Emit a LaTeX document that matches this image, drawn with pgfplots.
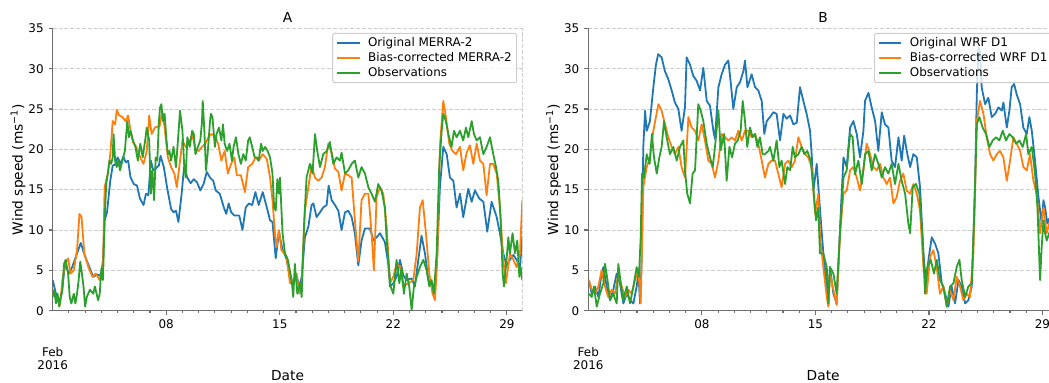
\documentclass[border=0pt]{standalone}
\usepackage{fontspec}
\setmainfont{DejaVu Sans}
\usepackage{pgfplots}
\pgfplotsset{compat=1.18}
\definecolor{mblue}{HTML}{1F77B4}
\definecolor{morange}{HTML}{FF7F0E}
\definecolor{mgreen}{HTML}{2CA02C}
\definecolor{spine}{RGB}{110,110,110}
\definecolor{gridc}{RGB}{205,205,205}
\definecolor{legc}{RGB}{204,204,204}
\pgfplotsset{
  panel/.style={
    scale only axis, width=338.2pt, height=203.3pt,
    anchor=south west,
    xmin=0, xmax=28.958, ymin=0, ymax=35,
    axis lines*=left,
    axis line style={draw=spine, line width=0.8pt},
    tick style={draw=spine, line width=0.8pt},
    tick align=outside,
    major tick length=3pt, minor tick length=1.8pt,
    xtick={7,14,21,28}, xticklabels={08,15,22,29},
    minor xtick={1,2,3,4,5,6,8,9,10,11,12,13,15,16,17,18,19,20,22,23,24,25,26,27},
    ytick={0,5,10,15,20,25,30,35},
    ymajorgrids,
    grid style={draw=gridc, line width=0.7pt, dash pattern=on 2.9pt off 1.3pt},
    /pgf/number format/assume math mode=true,
    ticklabel style={font=\fontsize{8.6}{10}\selectfont},
    label style={font=\fontsize{9.9}{11.5}\selectfont},
    ylabel={Wind speed (ms\textsuperscript{−1})},
    ylabel style={at={(rel axis cs:-0.0739,0.5)}, anchor=center},
    xlabel={Date},
    xlabel style={at={(rel axis cs:0.5,-0.2315)}, anchor=center},
    title style={at={(rel axis cs:0.5,1)}, anchor=base, yshift=-2pt, font=\fontsize{9.9}{11.5}\selectfont},
    clip mode=individual,
    every axis plot/.append style={line width=1.3pt, line join=round},
    legend cell align=left,
    legend image code/.code={\draw[#1] (0pt,0pt) -- (16pt,0pt);},
    legend style={at={(rel axis cs:1,1)}, anchor=north east, xshift=-3.8pt, yshift=-3.3pt,
      font=\fontsize{8.6}{10}\selectfont, draw=legc, line width=0.7pt, rounded corners=1.5pt,
      fill=white, fill opacity=0.8, text opacity=1, draw opacity=1,
      inner xsep=2.7pt, inner ysep=2.3pt, row sep=1.5pt, column sep=4.7pt,
      nodes={inner sep=0.8pt, text height=6.2pt, text depth=1.5pt}},
  }
}
\begin{document}
\begin{tikzpicture}
\begin{axis}[panel, at={(37.94pt,52.06pt)}, title={A}]
\addplot[mblue] coordinates {(0,3.8) (0.25,1.7) (0.45,1.3) (0.55,2.1) (0.76,5.8) (1.0,4.6) (1.2,5.4) (1.5,7.1) (1.73,8.4) (2.0,6.7) (2.3,5.2) (2.5,4.2) (2.75,4.5) (2.98,4.3) (3.1,6.3) (3.2,11.2) (3.35,12.2) (3.55,16.1) (3.7,18.0) (3.85,18.1) (4.0,19.0) (4.2,18.2) (4.35,19.1) (4.5,18.4) (4.65,18.6) (4.8,16.5) (5.0,15.7) (5.2,15.5) (5.38,13.9) (5.6,13.1) (5.75,14.5) (5.9,14.3) (6.05,18.6) (6.2,17.4) (6.35,17.6) (6.55,18.0) (6.65,19.2) (6.85,17.8) (7.05,15.3) (7.3,12.6) (7.45,12.2) (7.6,12.4) (7.75,11.0) (7.95,14.5) (8.1,17.8) (8.3,16.5) (8.5,15.8) (8.7,16.3) (8.9,15.9) (9.1,14.9) (9.3,15.7) (9.5,17.2) (9.7,16.5) (9.9,16.1) (10.05,14.9) (10.3,14.5) (10.55,12.8) (10.7,12.0) (10.85,13.3) (11.0,12.2) (11.2,11.8) (11.5,11.8) (11.7,10.0) (11.9,12.8) (12.1,13.3) (12.3,13.1) (12.5,14.7) (12.7,13.1) (12.95,14.7) (13.2,12.8) (13.4,11.2) (13.55,11.0) (13.75,6.5) (13.95,9.8) (14.15,7.7) (14.4,6.5) (14.63,4.2) (14.83,3.4) (15.04,4.2) (15.24,3.0) (15.35,4.2) (15.55,9.1) (15.76,10.4) (15.96,13.1) (16.07,13.3) (16.27,11.6) (16.48,12.2) (16.68,12.8) (16.89,13.1) (17.01,15.5) (17.2,13.7) (17.4,13.1) (17.61,12.4) (17.81,10.0) (18.02,12.2) (18.22,12.4) (18.43,11.6) (18.63,9.6) (18.84,5.6) (19.04,8.7) (19.25,10.2) (19.56,10.2) (19.77,8.7) (19.97,9.1) (20.18,9.6) (20.48,8.5) (20.69,5.8) (20.79,3.0) (21.0,3.4) (21.2,4.2) (21.41,6.3) (21.61,4.4) (21.82,3.8) (22.13,4.0) (22.33,3.0) (22.54,6.3) (22.74,9.3) (22.95,7.1) (23.16,3.8) (23.36,3.2) (23.57,3.0) (23.71,7.1) (23.87,15.3) (24.08,20.3) (24.29,19.4) (24.49,16.5) (24.7,16.1) (24.9,12.8) (25.11,14.5) (25.31,11.6) (25.62,15.1) (25.83,13.5) (26.03,14.9) (26.3,13.9) (26.55,13.5) (26.79,9.8) (27.06,13.5) (27.37,11.6) (27.57,9.6) (27.78,7.1) (27.98,5.6) (28.19,6.3) (28.4,6.9) (28.6,6.3) (28.81,5.4) (28.95,9.3)};
\addlegendentry{Original MERRA-2}
\addplot[morange] coordinates {(0,2.1) (0.15,1.7) (0.3,1.3) (0.45,0.7) (0.6,3.8) (0.76,5.8) (0.95,6.5) (1.1,4.6) (1.3,5.0) (1.5,7.5) (1.65,12.0) (1.78,11.6) (1.95,7.1) (2.2,5.4) (2.45,4.2) (2.65,4.6) (2.9,3.8) (3.1,5.4) (3.2,15.3) (3.4,17.0) (3.55,19.4) (3.7,23.5) (3.85,23.1) (3.95,24.9) (4.1,24.2) (4.3,24.0) (4.5,23.5) (4.65,24.2) (4.8,22.3) (4.95,20.9) (5.15,20.3) (5.4,19.0) (5.6,18.2) (5.8,19.8) (5.95,24.2) (6.1,21.9) (6.3,22.7) (6.6,22.9) (6.75,24.8) (6.9,22.7) (7.1,19.0) (7.3,17.8) (7.5,17.0) (7.65,15.3) (7.85,18.6) (8.0,21.1) (8.2,20.3) (8.4,20.7) (8.6,21.9) (8.8,20.0) (9.0,19.8) (9.2,20.3) (9.4,20.7) (9.6,21.5) (9.8,21.9) (10.0,21.7) (10.2,20.7) (10.4,18.6) (10.6,19.8) (10.8,17.0) (11.0,18.2) (11.2,19.0) (11.35,16.8) (11.6,16.8) (11.85,14.7) (12.05,17.8) (12.3,18.2) (12.5,19.0) (12.7,18.6) (12.95,19.4) (13.2,18.8) (13.4,16.5) (13.55,13.7) (13.7,9.6) (13.8,7.9) (13.95,10.0) (14.1,7.5) (14.3,7.1) (14.42,6.7) (14.63,3.4) (14.83,3.8) (15.04,4.6) (15.2,2.1) (15.35,3.4) (15.55,12.4) (15.76,15.3) (15.96,18.0) (16.17,16.5) (16.37,16.1) (16.58,16.5) (16.78,17.8) (16.99,20.7) (17.2,19.6) (17.4,17.6) (17.61,17.2) (17.81,14.9) (18.02,17.0) (18.22,16.8) (18.43,16.5) (18.63,11.2) (18.84,6.1) (19.04,13.7) (19.25,14.5) (19.46,14.5) (19.66,9.6) (19.8,5.0) (19.97,14.1) (20.18,15.3) (20.38,14.5) (20.59,10.4) (20.79,3.4) (21.0,4.2) (21.2,5.8) (21.41,5.4) (21.61,3.0) (21.92,3.4) (22.23,3.8) (22.44,7.1) (22.64,12.8) (22.81,13.7) (23.01,9.6) (23.22,4.6) (23.42,2.1) (23.57,1.3) (23.71,6.3) (23.87,20.3) (24.08,26.0) (24.24,24.0) (24.45,20.7) (24.65,19.8) (24.86,19.4) (25.11,20.3) (25.31,17.4) (25.52,19.6) (25.72,20.5) (25.93,18.2) (26.14,20.7) (26.34,18.6) (26.55,18.2) (26.75,14.3) (26.96,18.2) (27.16,18.2) (27.37,17.0) (27.57,12.8) (27.78,6.3) (27.94,3.4) (28.19,7.1) (28.4,6.3) (28.6,5.4) (28.81,7.1) (28.95,13.7)};
\addlegendentry{Bias-corrected MERRA-2}
\addplot[mgreen] coordinates {(0,1.7) (0.1,2.6) (0.2,0.9) (0.3,2.1) (0.4,0.5) (0.5,1.7) (0.6,2.6) (0.7,5.8) (0.8,6.3) (0.95,4.6) (1.05,1.7) (1.15,0.9) (1.3,2.1) (1.4,0.9) (1.5,2.1) (1.6,3.8) (1.7,6.1) (1.8,4.6) (1.9,3.0) (2.0,0.5) (2.1,1.7) (2.3,2.6) (2.5,2.1) (2.6,3.0) (2.8,1.3) (2.9,2.1) (3.0,5.2) (3.1,3.8) (3.2,11.2) (3.3,15.7) (3.4,17.0) (3.5,18.6) (3.6,18.2) (3.7,19.0) (3.75,21.9) (3.85,18.6) (3.95,17.8) (4.05,18.6) (4.15,17.4) (4.3,18.6) (4.45,19.8) (4.6,23.5) (4.7,21.5) (4.8,22.3) (4.95,21.1) (5.1,20.3) (5.25,18.6) (5.4,20.7) (5.55,19.0) (5.7,21.1) (5.8,22.7) (5.95,21.1) (6.05,14.5) (6.15,17.4) (6.25,13.7) (6.35,19.0) (6.45,18.6) (6.55,23.5) (6.62,25.2) (6.7,25.6) (6.8,23.5) (6.9,24.4) (7.0,21.5) (7.1,19.4) (7.2,19.8) (7.3,18.6) (7.45,20.3) (7.6,17.8) (7.75,21.9) (7.85,24.8) (7.95,23.1) (8.0,22.3) (8.1,18.2) (8.2,16.5) (8.3,21.5) (8.45,20.3) (8.6,22.3) (8.7,21.9) (8.8,19.4) (8.95,20.3) (9.1,21.1) (9.2,23.3) (9.25,26.0) (9.35,22.3) (9.45,17.4) (9.55,19.4) (9.7,23.5) (9.75,24.4) (9.85,24.0) (10.0,20.3) (10.1,21.9) (10.25,22.7) (10.4,21.1) (10.5,23.1) (10.6,20.7) (10.75,19.8) (10.9,20.7) (11.05,18.6) (11.15,20.3) (11.3,21.5) (11.45,19.4) (11.6,18.2) (11.75,19.4) (11.9,18.6) (12.05,21.1) (12.15,21.5) (12.3,20.3) (12.45,19.0) (12.6,19.0) (12.7,18.6) (12.85,20.7) (12.95,19.8) (13.1,20.3) (13.25,19.8) (13.4,19.0) (13.55,17.0) (13.65,12.8) (13.75,12.4) (13.85,16.3) (13.95,14.5) (14.01,16.5) (14.17,9.6) (14.32,7.1) (14.5,6.3) (14.73,3.8) (14.83,1.7) (14.93,5.8) (15.08,2.1) (15.24,3.4) (15.35,1.7) (15.49,10.4) (15.65,16.5) (15.86,18.2) (16.02,17.0) (16.17,21.9) (16.31,19.8) (16.48,17.8) (16.68,19.4) (16.89,19.8) (17.09,20.9) (17.2,19.4) (17.3,18.2) (17.5,19.0) (17.71,18.6) (17.81,19.6) (18.02,17.0) (18.22,17.4) (18.43,18.2) (18.63,18.6) (18.84,16.5) (19.04,17.8) (19.25,17.0) (19.46,15.3) (19.66,14.5) (19.87,13.5) (20.07,15.7) (20.27,14.9) (20.48,12.8) (20.59,8.7) (20.69,6.3) (20.83,3.0) (21.0,2.1) (21.2,6.3) (21.37,3.4) (21.51,5.4) (21.65,2.1) (21.82,4.6) (21.98,3.0) (22.13,0.1) (22.27,3.0) (22.44,4.2) (22.64,5.4) (22.85,6.3) (23.05,5.0) (23.22,3.0) (23.36,3.8) (23.5,2.1) (23.67,7.1) (23.83,17.8) (23.98,22.3) (24.08,24.4) (24.24,23.5) (24.39,21.9) (24.59,20.3) (24.74,22.3) (24.9,21.5) (25.11,22.3) (25.31,21.1) (25.48,22.7) (25.62,21.5) (25.83,23.5) (25.97,21.9) (26.14,21.1) (26.34,21.5) (26.55,19.4) (26.75,20.3) (26.96,21.5) (27.16,19.4) (27.33,17.8) (27.47,16.1) (27.62,11.2) (27.74,4.6) (27.82,3.0) (27.98,6.3) (28.09,9.1) (28.19,7.1) (28.35,9.6) (28.5,7.1) (28.64,8.7) (28.77,4.2) (28.85,5.4) (28.95,3.8)};
\addlegendentry{Observations}
\draw[draw=gridc, line width=0.7pt, dash pattern=on 2.9pt off 1.3pt] (rel axis cs:1,0) -- (rel axis cs:1,1);
\node[align=center, font=\fontsize{8.6}{9.4}\selectfont] at (rel axis cs:0,-0.1687) {Feb\\2016};
\end{axis}
\begin{axis}[panel, at={(423.58pt,52.06pt)}, title={B}]
\addplot[mblue] coordinates {(0.04,3.8) (0.21,2.1) (0.41,3.0) (0.62,1.7) (0.82,4.6) (0.93,5.4) (1.13,3.0) (1.34,1.3) (1.54,2.6) (1.75,4.6) (1.95,3.4) (2.16,0.9) (2.37,2.1) (2.57,1.3) (2.78,0.9) (2.98,3.0) (3.09,4.6) (3.19,0.9) (3.29,6.3) (3.39,20.3) (3.5,24.8) (3.6,22.3) (3.8,23.5) (4.01,27.7) (4.17,30.5) (4.31,31.8) (4.52,31.4) (4.72,29.7) (4.93,28.7) (5.14,27.3) (5.34,25.8) (5.55,25.0) (5.75,22.3) (5.96,25.2) (6.06,31.4) (6.27,30.5) (6.47,29.1) (6.68,28.5) (6.89,27.3) (7.09,30.1) (7.3,26.0) (7.5,25.4) (7.71,22.3) (7.81,21.3) (8.02,27.7) (8.22,29.3) (8.43,30.5) (8.63,31.0) (8.78,28.3) (8.94,25.0) (9.15,27.7) (9.35,28.3) (9.56,29.7) (9.66,31.0) (9.81,27.7) (10.07,29.3) (10.28,27.7) (10.48,27.3) (10.69,26.0) (10.85,21.9) (11.0,23.5) (11.2,24.0) (11.41,24.6) (11.61,24.4) (11.82,21.1) (12.03,24.4) (12.23,23.8) (12.44,24.2) (12.64,23.1) (12.85,23.3) (13.05,27.7) (13.26,26.0) (13.46,24.4) (13.67,22.3) (13.77,19.4) (13.88,14.9) (14.08,18.2) (14.29,12.4) (14.49,7.1) (14.7,3.0) (14.8,0.7) (14.9,5.4) (15.11,2.1) (15.31,0.9) (15.52,10.4) (15.73,19.0) (15.93,17.8) (16.14,22.7) (16.34,23.5) (16.55,21.9) (16.75,19.0) (16.96,22.3) (17.06,26.0) (17.27,27.0) (17.47,25.2) (17.68,23.5) (17.88,19.8) (18.09,24.6) (18.29,23.1) (18.5,22.7) (18.7,18.6) (18.91,17.8) (19.12,21.5) (19.32,18.6) (19.47,21.7) (19.67,19.4) (19.84,17.8) (20.04,19.4) (20.25,19.0) (20.45,15.3) (20.66,7.1) (20.82,3.4) (20.97,6.3) (21.17,9.1) (21.38,8.3) (21.58,7.1) (21.79,3.4) (22.0,2.1) (22.2,0.5) (22.4,3.0) (22.61,0.9) (22.82,3.8) (23.02,3.0) (23.23,0.9) (23.43,1.3) (23.64,3.0) (23.84,15.3) (23.95,26.8) (24.05,32.6) (24.15,32.0) (24.25,27.7) (24.46,25.6) (24.66,26.4) (24.87,24.0) (25.08,24.4) (25.28,25.2) (25.49,24.8) (25.59,25.8) (25.8,22.7) (25.96,24.8) (26.1,27.7) (26.25,28.1) (26.41,26.8) (26.62,25.6) (26.82,22.7) (27.03,21.9) (27.19,24.0) (27.34,22.3) (27.54,18.6) (27.75,14.1) (27.95,10.8) (28.06,13.7) (28.16,12.8) (28.3,10.8) (28.41,11.4) (28.6,11.6) (28.8,10.2) (28.95,10.5)};
\addlegendentry{Original WRF D1}
\addplot[morange] coordinates {(0.04,3.8) (0.21,2.6) (0.41,2.1) (0.62,3.0) (0.82,5.0) (1.03,3.0) (1.23,1.7) (1.44,2.6) (1.65,2.1) (1.85,4.6) (2.06,3.0) (2.26,1.7) (2.47,2.6) (2.67,2.1) (2.88,3.8) (3.09,5.0) (3.23,0.9) (3.39,15.3) (3.6,17.8) (3.8,19.0) (4.01,22.3) (4.17,24.0) (4.32,25.6) (4.52,24.8) (4.73,23.1) (4.93,21.5) (5.14,20.3) (5.34,19.4) (5.55,20.3) (5.75,17.8) (5.96,16.5) (6.17,24.0) (6.37,22.7) (6.58,22.3) (6.78,21.1) (6.99,23.1) (7.19,21.1) (7.4,18.6) (7.61,18.2) (7.81,16.5) (8.02,18.6) (8.22,21.9) (8.43,21.5) (8.63,21.1) (8.84,21.5) (9.04,21.1) (9.25,22.3) (9.46,21.1) (9.66,22.3) (9.87,22.3) (10.07,21.5) (10.28,21.9) (10.48,20.7) (10.69,18.6) (10.89,16.5) (11.1,18.2) (11.3,18.6) (11.51,18.6) (11.71,17.0) (11.92,15.3) (12.13,18.2) (12.33,18.6) (12.54,17.8) (12.74,18.6) (12.95,21.5) (13.15,20.3) (13.36,19.4) (13.56,19.0) (13.77,17.8) (13.98,12.0) (14.18,14.5) (14.29,9.1) (14.49,5.4) (14.7,1.7) (14.8,0.5) (14.9,4.6) (15.11,2.6) (15.31,0.7) (15.52,9.6) (15.73,14.5) (15.93,14.9) (16.14,17.4) (16.34,17.8) (16.55,16.5) (16.75,14.9) (16.96,17.4) (17.16,20.7) (17.37,19.4) (17.57,17.8) (17.78,17.4) (17.99,18.2) (18.19,16.5) (18.4,15.7) (18.6,16.5) (18.81,13.3) (19.01,14.1) (19.22,16.1) (19.42,17.0) (19.63,14.9) (19.84,14.5) (20.04,15.7) (20.25,14.5) (20.45,12.4) (20.66,5.4) (20.86,2.1) (21.07,6.7) (21.27,7.5) (21.48,5.4) (21.68,2.1) (21.89,3.0) (22.1,0.5) (22.3,2.6) (22.51,1.3) (22.71,4.2) (22.92,3.0) (23.12,1.3) (23.33,2.1) (23.53,1.7) (23.74,7.1) (23.95,23.5) (24.15,26.0) (24.36,24.4) (24.56,21.5) (24.77,19.4) (24.97,18.6) (25.18,19.4) (25.38,19.8) (25.59,19.0) (25.8,16.1) (26.0,18.6) (26.21,21.5) (26.41,20.7) (26.62,19.8) (26.82,17.8) (27.03,17.4) (27.23,19.4) (27.44,16.1) (27.64,14.5) (27.85,9.6) (28.06,12.8) (28.26,9.6) (28.41,10.8) (28.6,9.5) (28.8,8.5) (28.95,9.0)};
\addlegendentry{Bias-corrected WRF D1}
\addplot[mgreen] coordinates {(0.04,2.1) (0.21,1.7) (0.35,3.0) (0.52,0.5) (0.72,2.1) (0.93,3.4) (1.03,5.8) (1.17,4.0) (1.34,1.3) (1.54,2.1) (1.75,0.9) (1.85,5.8) (2.0,3.4) (2.16,1.3) (2.37,3.0) (2.57,0.9) (2.78,3.0) (2.98,5.4) (3.12,4.2) (3.23,9.1) (3.31,17.0) (3.43,16.5) (3.6,19.4) (3.78,18.2) (3.92,21.9) (4.05,19.0) (4.22,17.0) (4.38,19.0) (4.52,20.3) (4.67,23.5) (4.83,21.5) (5.03,19.4) (5.24,20.3) (5.45,18.6) (5.65,20.3) (5.86,21.1) (5.96,17.4) (6.1,14.5) (6.27,13.3) (6.43,17.0) (6.58,17.4) (6.78,25.6) (6.93,24.8) (7.09,23.5) (7.3,20.7) (7.5,19.0) (7.67,17.8) (7.81,20.3) (8.02,24.8) (8.16,19.9) (8.37,21.9) (8.53,16.1) (8.7,20.3) (8.86,19.0) (9.04,20.7) (9.21,21.1) (9.39,22.3) (9.52,26.0) (9.66,23.5) (9.8,20.3) (9.97,22.7) (10.13,21.5) (10.28,21.9) (10.42,20.3) (10.58,21.5) (10.75,19.4) (10.89,19.4) (11.1,19.8) (11.2,20.3) (11.41,18.6) (11.61,21.1) (11.78,17.8) (11.92,18.6) (12.13,15.7) (12.27,17.8) (12.44,17.4) (12.6,20.3) (12.74,19.0) (12.95,19.4) (13.15,20.3) (13.32,19.4) (13.5,19.8) (13.71,18.6) (13.87,15.3) (14.04,11.2) (14.18,12.8) (14.28,7.1) (14.49,7.1) (14.7,5.4) (14.8,0.9) (14.9,5.4) (15.11,4.6) (15.31,2.1) (15.52,9.6) (15.73,16.5) (15.93,17.4) (16.14,21.9) (16.3,21.5) (16.44,16.9) (16.65,18.6) (16.86,15.7) (17.06,19.4) (17.27,19.8) (17.47,17.4) (17.68,19.4) (17.88,18.2) (18.09,16.5) (18.29,17.8) (18.5,17.0) (18.7,18.2) (18.91,15.7) (19.12,18.2) (19.32,16.1) (19.53,14.5) (19.73,10.8) (19.84,9.6) (20.0,15.3) (20.2,15.7) (20.41,14.5) (20.62,8.7) (20.76,2.1) (20.9,5.4) (21.11,6.3) (21.31,4.6) (21.48,6.3) (21.68,3.8) (21.89,3.0) (22.1,0.5) (22.3,3.0) (22.51,3.4) (22.71,5.4) (22.88,6.3) (23.02,3.8) (23.23,1.7) (23.43,3.0) (23.64,3.4) (23.78,11.2) (23.95,23.1) (24.11,24.0) (24.31,22.7) (24.52,21.9) (24.73,20.3) (24.93,21.1) (25.14,21.5) (25.34,21.1) (25.55,22.3) (25.75,21.1) (25.96,21.9) (26.16,21.5) (26.37,20.7) (26.58,21.1) (26.78,20.3) (26.99,21.9) (27.13,19.4) (27.34,20.3) (27.54,17.0) (27.69,12.8) (27.85,3.8) (27.95,7.9) (28.06,11.2) (28.16,9.6) (28.26,8.7) (28.41,9.6) (28.6,10.5) (28.8,9.0) (28.95,10.0)};
\addlegendentry{Observations}
\draw[draw=gridc, line width=0.7pt, dash pattern=on 2.9pt off 1.3pt] (rel axis cs:1,0) -- (rel axis cs:1,1);
\node[align=center, font=\fontsize{8.6}{9.4}\selectfont] at (rel axis cs:0,-0.1687) {Feb\\2016};
\end{axis}
\pgfresetboundingbox
\path[use as bounding box] (0pt,0pt) rectangle (755.28pt,275.76pt);
\end{tikzpicture}
\end{document}
